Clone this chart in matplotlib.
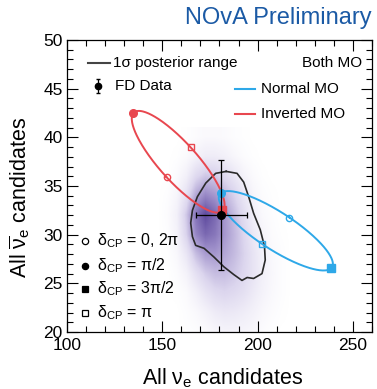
import numpy as np
import matplotlib
matplotlib.use("Agg")
import matplotlib.pyplot as plt
from matplotlib.colors import LinearSegmentedColormap
from matplotlib.ticker import MultipleLocator

plt.rcParams["font.family"] = ["Liberation Sans", "DejaVu Sans"]
plt.rcParams["mathtext.fontset"] = "custom"
plt.rcParams["mathtext.rm"] = "Liberation Sans"
plt.rcParams["mathtext.it"] = "Liberation Sans"
plt.rcParams["mathtext.sf"] = "Liberation Sans"

# delta_CP points: 0, pi/2, pi, 3pi/2
nh_nue = [216.7, 180.6, 202.2, 238.7]
nh_nuebar = [31.7, 34.3, 29.0, 26.6]
ih_nue = [152.4, 134.4, 165.1, 181.4]
ih_nuebar = [35.95, 42.5, 39.0, 32.5]

# FD data
data_nue = 181
data_nuebar = 32

# 1 sigma posterior contour
contour_nue = [183.5, 178.0, 172.8, 168.4, 165.8, 164.9, 165.8, 167.5, 171.9, 177.1,
               182.3, 187.5, 191.8, 194.5, 197.9, 202.3, 204.0, 203.6, 201.4, 197.9,
               195.3, 192.7, 189.2, 183.5]
contour_nuebar = [36.5, 36.3, 35.3, 33.9, 32.5, 31.2, 29.8, 28.9, 28.6, 27.7,
                  26.7, 25.9, 25.3, 25.6, 25.5, 26.0, 27.4, 28.8, 30.5, 32.2,
                  33.9, 35.4, 36.3, 36.5]

# posterior density (bins 5 wide in nue, 2 wide in nuebar), rows from top
dens_x_edges = [145, 235]
dens_y_edges = [19, 41]
density = np.array([
    [0, 0, 0, 0.01, 0.03, 0.05, 0.05, 0.04, 0.02, 0.01, 0, 0, 0, 0, 0, 0, 0, 0],
    [0, 0, 0.01, 0.04, 0.10, 0.15, 0.15, 0.12, 0.07, 0.03, 0.01, 0, 0, 0, 0, 0, 0, 0],
    [0, 0, 0.04, 0.12, 0.30, 0.40, 0.38, 0.30, 0.20, 0.10, 0.04, 0.01, 0, 0, 0, 0, 0, 0],
    [0, 0.02, 0.08, 0.25, 0.55, 0.70, 0.62, 0.48, 0.35, 0.20, 0.08, 0.03, 0.01, 0, 0, 0, 0, 0],
    [0, 0.03, 0.12, 0.40, 0.80, 1.00, 0.85, 0.62, 0.45, 0.28, 0.13, 0.05, 0.02, 0, 0, 0, 0, 0],
    [0, 0.02, 0.10, 0.35, 0.70, 0.85, 0.78, 0.62, 0.48, 0.33, 0.18, 0.08, 0.03, 0.01, 0, 0, 0, 0],
    [0, 0.01, 0.06, 0.20, 0.45, 0.60, 0.62, 0.55, 0.46, 0.35, 0.22, 0.11, 0.05, 0.02, 0, 0, 0, 0],
    [0, 0, 0.03, 0.10, 0.25, 0.38, 0.45, 0.45, 0.40, 0.32, 0.22, 0.12, 0.06, 0.02, 0, 0, 0, 0],
    [0, 0, 0.01, 0.04, 0.12, 0.22, 0.30, 0.33, 0.30, 0.25, 0.17, 0.10, 0.05, 0.02, 0, 0, 0, 0],
    [0, 0, 0, 0.02, 0.05, 0.10, 0.16, 0.19, 0.18, 0.15, 0.11, 0.06, 0.03, 0.01, 0, 0, 0, 0],
    [0, 0, 0, 0.01, 0.02, 0.04, 0.07, 0.09, 0.09, 0.08, 0.06, 0.03, 0.01, 0, 0, 0, 0, 0],
])

blue = "#2ea8e8"
red = "#e8474f"


def ellipse(xs, ys):
    # bi-probability ellipse through the four delta_CP points
    d = np.linspace(0, 2 * np.pi, 300)
    cx, cy = np.mean(xs), np.mean(ys)
    x = cx + (xs[0] - xs[2]) / 2 * np.cos(d) + (xs[1] - xs[3]) / 2 * np.sin(d)
    y = cy + (ys[0] - ys[2]) / 2 * np.cos(d) + (ys[1] - ys[3]) / 2 * np.sin(d)
    return x, y


fig = plt.figure(figsize=(3.77, 3.89), dpi=100)
ax = fig.add_axes([0.1777, 0.1465, 0.809, 0.7507])

cmap = LinearSegmentedColormap.from_list("post", ["#ffffff", "#dcd6ee", "#9d8ec9", "#5f4b9f"])
ax.imshow(density, extent=[dens_x_edges[0], dens_x_edges[1], dens_y_edges[0], dens_y_edges[1]],
          cmap=cmap, vmin=0, vmax=1.0, aspect="auto", interpolation="bilinear", zorder=0)

ax.plot(contour_nue, contour_nuebar, color="#2a2a2a", lw=1.2, zorder=2)

for xs, ys, c in [(ih_nue, ih_nuebar, red), (nh_nue, nh_nuebar, blue)]:
    ex, ey = ellipse(xs, ys)
    ax.plot(ex, ey, color=c, lw=1.4, zorder=3)
    ax.plot(xs[0], ys[0], "o", ms=4.5, mfc="none", mec=c, mew=1.0, zorder=4)
    ax.plot(xs[1], ys[1], "o", ms=5.5, color=c, zorder=4)
    ax.plot(xs[2], ys[2], "s", ms=4.5, mfc="none", mec=c, mew=1.0, zorder=4)
    ax.plot(xs[3], ys[3], "s", ms=5.5, color=c, zorder=4)

ax.errorbar(data_nue, data_nuebar, xerr=np.sqrt(data_nue), yerr=np.sqrt(data_nuebar),
            fmt="o", color="black", ms=5.5, lw=0.9, capsize=2, capthick=0.9, zorder=5)

ax.set_xlim(100, 260)
ax.set_ylim(20, 50)
ax.xaxis.set_major_locator(MultipleLocator(50))
ax.xaxis.set_minor_locator(MultipleLocator(10))
ax.yaxis.set_major_locator(MultipleLocator(5))
ax.yaxis.set_minor_locator(MultipleLocator(1))
ax.tick_params(which="both", direction="in", top=True, right=True, labelsize=12.5, width=0.8)
ax.tick_params(which="major", length=8)
ax.tick_params(which="minor", length=4)
ax.tick_params(axis="x", pad=4.5)
ax.tick_params(axis="y", pad=3)
for s in ax.spines.values():
    s.set_linewidth(0.9)

ax.set_xlabel("All ν$_{\\rm e}$ candidates", fontsize=15.5)
ax.set_ylabel("All $\\overline{\\rm ν}_{\\rm e}$ candidates", fontsize=15.5)
ax.xaxis.set_label_coords(0.51, -0.118)
ax.yaxis.set_label_coords(-0.115, 0.46)

# legends
T = ax.transAxes
ax.plot([0.069, 0.141], [0.922, 0.922], color="#444444", lw=1.5, transform=T)
ax.text(0.151, 0.922, "1σ posterior range", fontsize=11, va="center", transform=T)
ax.errorbar([0.102], [0.842], yerr=[0.024], fmt="o", color="black", ms=4.5, lw=0.9,
            capsize=1.5, transform=T)
ax.text(0.157, 0.842, "FD Data", fontsize=11, va="center", transform=T)
ax.text(0.967, 0.922, "Both MO", fontsize=11, va="center", ha="right", transform=T)
ax.plot([0.551, 0.616], [0.832, 0.832], color=blue, lw=1.5, transform=T)
ax.text(0.636, 0.832, "Normal MO", fontsize=11, va="center", transform=T)
ax.plot([0.551, 0.616], [0.747, 0.747], color=red, lw=1.5, transform=T)
ax.text(0.636, 0.747, "Inverted MO", fontsize=11, va="center", transform=T)

mk = [("o", "none", "δ$_{\\rm CP}$ = 0, 2π"),
      ("o", "black", "δ$_{\\rm CP}$ = π/2"),
      ("s", "black", "δ$_{\\rm CP}$ = 3π/2"),
      ("s", "none", "δ$_{\\rm CP}$ = π")]
for (m, fc, lab), fy in zip(mk, [0.312, 0.226, 0.147, 0.065]):
    ax.plot([0.059], [fy], m, ms=4.5, mfc=fc, mec="black", mew=0.9, transform=T)
    ax.text(0.098, fy, lab, fontsize=11.5, va="center", transform=T)

fig.text(0.987, 0.955, "NOvA Preliminary", color="#1b5aa5", fontsize=17,
         ha="right", va="center")

fig.savefig("out.png", dpi=100)
